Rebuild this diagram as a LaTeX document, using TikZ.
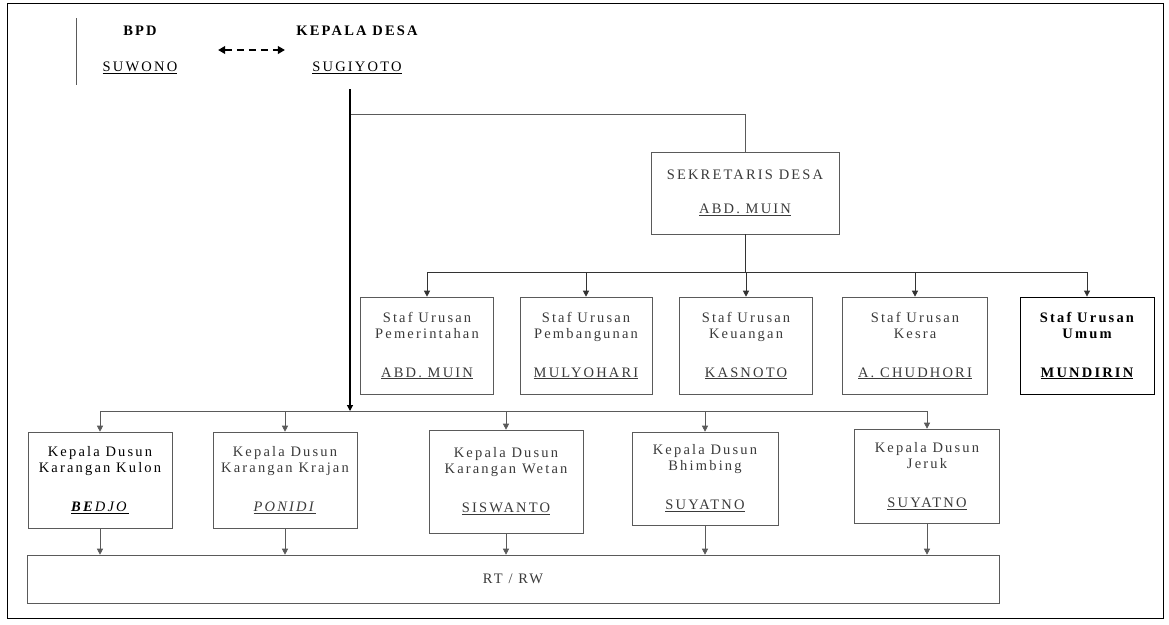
\documentclass[tikz,border=0pt]{standalone}
\usepackage{fontspec}
\setmainfont{Liberation Serif}[LetterSpace=15]
\usetikzlibrary{arrows.meta}
\definecolor{LineA}{HTML}{5A5A5A}
\definecolor{TextA}{HTML}{3A3A3A}
\tikzset{
  unit/.style={draw=LineA, semithick, align=center, text=TextA, inner sep=2pt,
               font=\fontsize{14.5}{16}\selectfont},
  staff/.style={unit, minimum height=97pt},
  dusun/.style={unit, minimum height=96pt},
  head/.style={align=center, font=\fontsize{14.5}{16}\selectfont\bfseries},
  line/.style={draw=LineA, semithick},
  arr/.style={line, -{Triangle[length=6pt,width=6pt]}},
  dasharr/.style={very thick, dash pattern=on 7pt off 5pt,
                  {Triangle[length=7pt,width=8pt]}-{Triangle[length=7pt,width=8pt]}},
}
\begin{document}
\begin{tikzpicture}[x=1pt,y=-1pt]
  \useasboundingbox (0,0) rectangle (1169,624);
  \draw[thick] (7,3) rectangle (1163,618);
  \draw[line] (76,18) -- (76,85);
  % top: BPD and kepala desa
  \node[head, minimum width=156pt] (bpd) at (140,50) {BPD\\[20pt]\mdseries\underline{SUWONO}};
  \node[head, minimum width=144pt] (kades) at (357,50) {KEPALA DESA\\[20pt]\mdseries\underline{SUGIYOTO}};
  \draw[dasharr] (bpd.east) -- (kades.west);
  \coordinate (top) at ([shift={(-7pt,-12pt)}]kades.south);
  \coordinate (tap) at (0,114);
  \coordinate (busS) at (0,272);
  \coordinate (busD) at (0,411);
  % sekretaris
  \node[unit, minimum width=188pt, minimum height=82pt] (sek) at (745,193)
       {SEKRETARIS DESA\\[18pt]\underline{ABD. MUIN}};
  \draw[line] (top |- tap) -| (sek.north);
  % staf urusan
  \foreach \n/\x/\w/\t/\p in {s1/427/133/Pemerintahan/{ABD. MUIN},
                              s2/586/132/Pembangunan/MULYOHARI,
                              s3/746/133/Keuangan/KASNOTO,
                              s4/915/145/Kesra/{A. CHUDHORI}}
    \node[staff, minimum width=\w pt] (\n) at (\x,345.5) {Staf Urusan\\\t\\[23pt]\underline{\p}};
  \node[staff, minimum width=134pt, draw=black, thick, text=black, font=\fontsize{14.5}{16}\selectfont\bfseries]
       (s5) at (1087,345.5) {Staf Urusan\\Umum\\[23pt]\underline{MUNDIRIN}};
  \draw[line, draw=black!80, thick] (sek.south) -- (sek.south |- busS);
  \draw[line, draw=black!80, thick] (s1.north |- busS) -- (s5.north |- busS);
  \foreach \n in {s1,s2,s3,s4,s5}
    \draw[arr, draw=black!80, thick] (\n.north |- busS) -- (\n.north);
  % kepala dusun
  \node[dusun, minimum width=144pt, text=black] (d1) at (100,480) {Kepala Dusun\\Karangan Kulon\\[23pt]\underline{\textbf{\textit{BE}}\textit{DJO}}};
  \node[dusun, minimum width=144pt] (d2) at (285,480) {Kepala Dusun\\Karangan Krajan\\[23pt]\underline{\textit{PONIDI}}};
  \node[dusun, minimum width=154pt, minimum height=103pt] (d3) at (506,481.5) {Kepala Dusun\\Karangan Wetan\\[23pt]\underline{SISWANTO}};
  \node[dusun, minimum width=146pt, minimum height=93pt] (d4) at (705,478.5) {Kepala Dusun\\Bhimbing\\[23pt]\underline{SUYATNO}};
  \node[dusun, minimum width=145pt, minimum height=94pt] (d5) at (927,476) {Kepala Dusun\\Jeruk\\[23pt]\underline{SUYATNO}};
  \node[unit, minimum width=972pt, minimum height=48pt] (rt) at (513,579) {RT / RW};
  \draw[arr, draw=black, very thick] (top) -- (top |- busD);
  \draw[line] (d1.north |- busD) -- (d5.north |- busD);
  \foreach \n in {d1,d2,d3,d4,d5}{
    \draw[arr] (\n.north |- busD) -- (\n.north);
    \draw[arr] (\n.south) -- (\n.south |- rt.north);
  }
\end{tikzpicture}
\end{document}
